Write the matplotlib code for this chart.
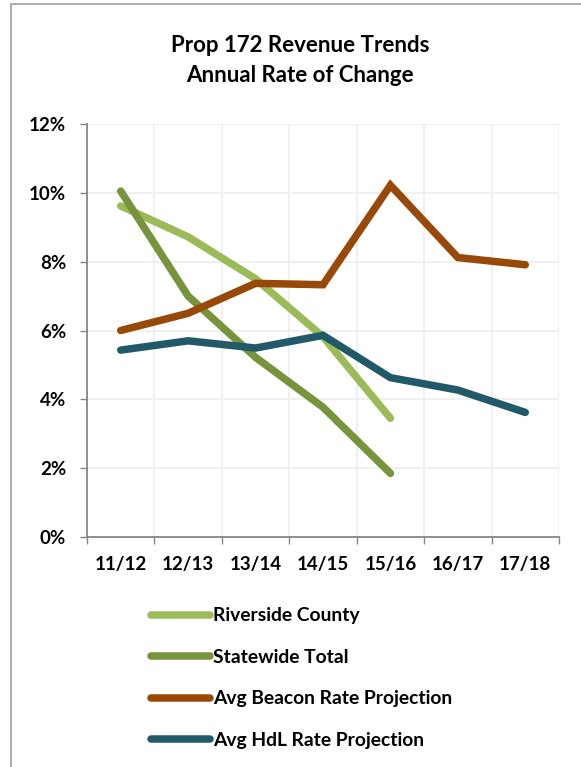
import matplotlib
matplotlib.use('Agg')
import matplotlib.pyplot as plt
from matplotlib.patches import Rectangle
from matplotlib.ticker import FixedLocator, FuncFormatter

plt.rcParams['font.family'] = ['Lato', 'DejaVu Sans']
plt.rcParams['font.weight'] = 'bold'

# data
years = ['11/12', '12/13', '13/14', '14/15', '15/16', '16/17', '17/18']
riverside = [9.62, 8.72, 7.5, 5.82, 3.45]
statewide = [10.05, 7.0, 5.22, 3.77, 1.85]
beacon = [6.0, 6.5, 7.37, 7.33, 10.22, 8.12, 7.91]
hdl = [5.43, 5.7, 5.49, 5.86, 4.63, 4.27, 3.62]

series = [
    ('Riverside County', riverside, '#9BBB59'),
    ('Statewide Total', statewide, '#77933C'),
    ('Avg Beacon Rate Projection', beacon, '#984807'),
    ('Avg HdL Rate Projection', hdl, '#215968'),
]

fig = plt.figure(figsize=(5.81, 7.67), dpi=100)
# chart frame (runs off the right/bottom edge like the screenshot)
fig.patches.append(Rectangle((11 / 581, -0.05), 1.2, 1 - 4 / 767 + 0.05,
                             transform=fig.transFigure, fill=False,
                             ec='#A6A6A6', lw=1.3))

ax = fig.add_axes([87 / 581, 1 - 537 / 767, 472 / 581, 413 / 767])

for name, vals, col in series:
    ax.plot(range(len(vals)), vals, color=col, lw=5.4, solid_capstyle='round',
            solid_joinstyle='miter', label=name)

ax.set_xlim(-0.5, len(years) - 0.5)
ax.set_ylim(0, 12)
ax.set_yticks(range(0, 13, 2))
ax.yaxis.set_major_formatter(FuncFormatter(lambda v, p: f'{v:.0f}%'))
ax.xaxis.set_major_locator(FixedLocator([i - 0.5 for i in range(len(years) + 1)]))
ax.xaxis.set_minor_locator(FixedLocator(range(len(years))))
ax.set_xticklabels([])
ax.set_xticklabels(years, minor=True)
ax.tick_params(axis='x', which='minor', length=0, pad=14, labelsize=13.5)
ax.tick_params(axis='x', which='major', length=5, color='#868686', width=1)
ax.tick_params(axis='y', length=5, color='#868686', width=1, labelsize=13.5, pad=10)

ax.grid(True, color='#EFEFEF', lw=1.3)
ax.set_axisbelow(True)
for s in ['top', 'right']:
    ax.spines[s].set_visible(False)
for s in ['left', 'bottom']:
    ax.spines[s].set_color('#868686')
    ax.spines[s].set_linewidth(1.3)

fig.text(300 / 581, 1 - 46 / 767, 'Prop 172 Revenue Trends', ha='center', va='center',
         fontsize=16, fontweight='bold')
fig.text(300 / 581, 1 - 76 / 767, 'Annual Rate of Change', ha='center', va='center',
         fontsize=16, fontweight='bold')

fig.legend(loc='upper left', bbox_to_anchor=(134 / 581, 1 - 590 / 767), frameon=False,
           handlelength=3.05, handletextpad=0.15, labelspacing=1.27, fontsize=13.9)
for line in fig.legends[0].get_lines():
    line.set_solid_capstyle('round')

fig.savefig('out.png', dpi=100)
